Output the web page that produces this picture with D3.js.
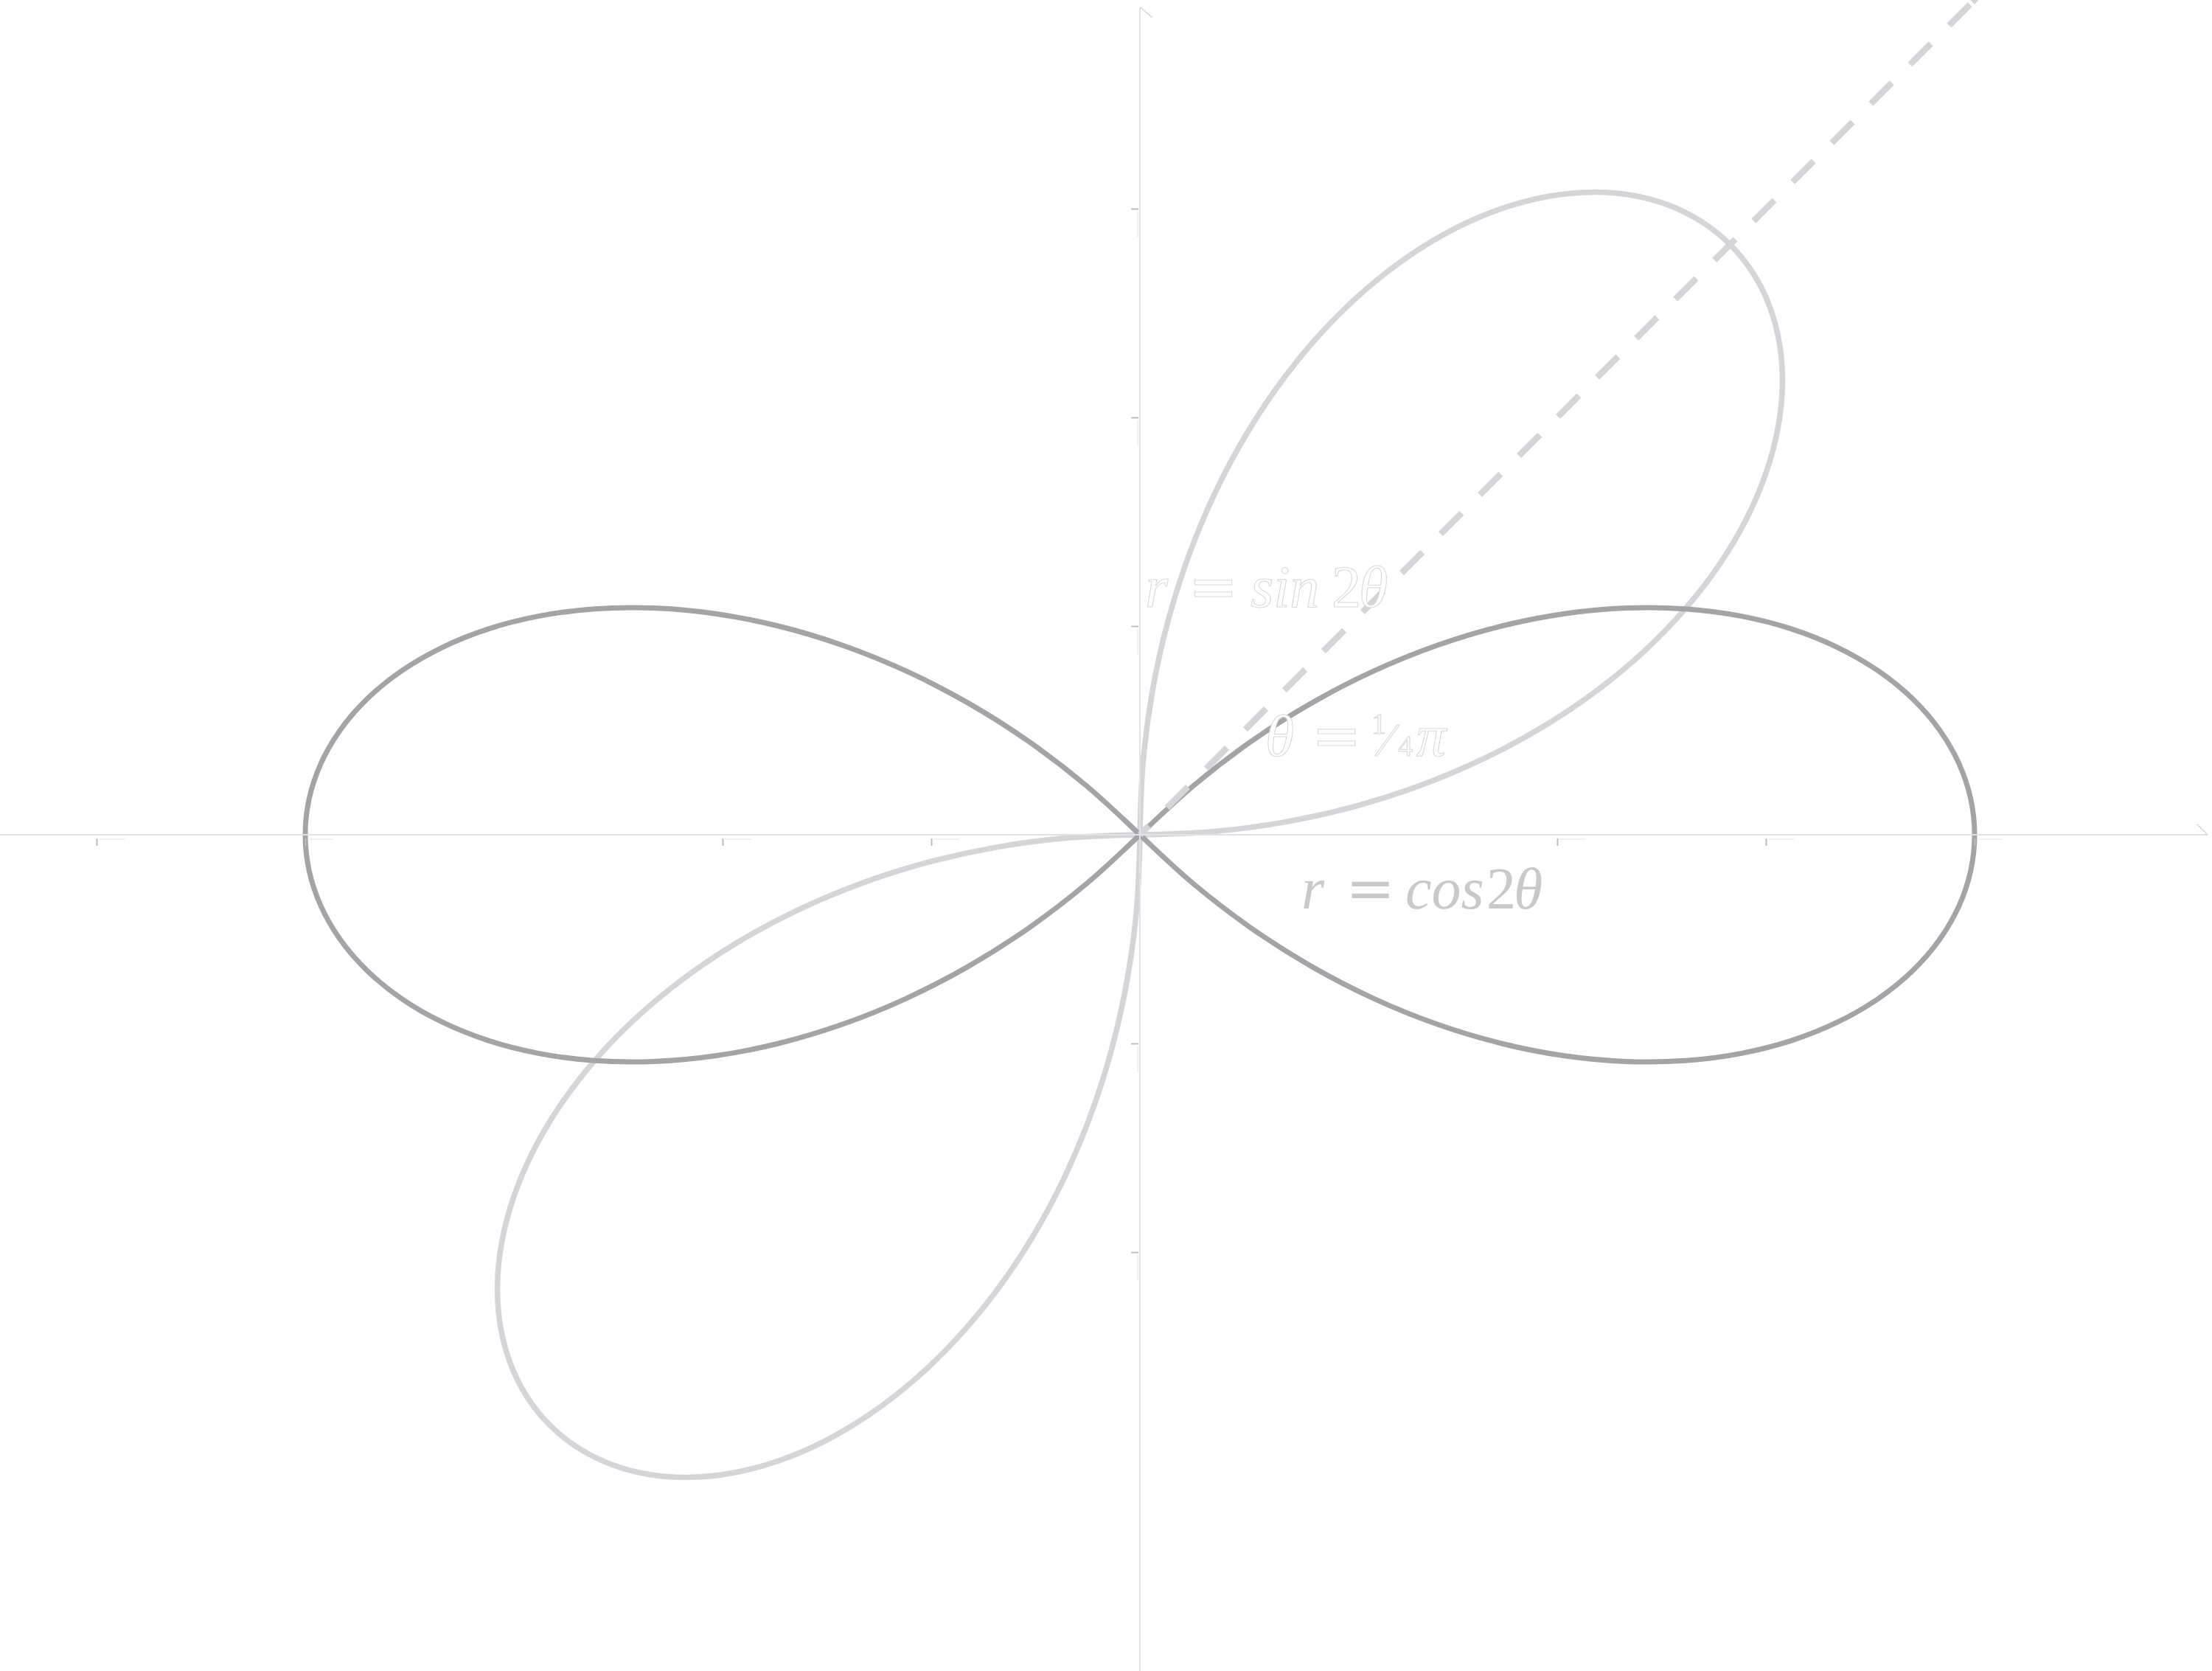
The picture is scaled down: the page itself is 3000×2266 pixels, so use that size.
<!DOCTYPE html>
<html>
<head>
<meta charset="utf-8">
<script src="https://cdn.jsdelivr.net/npm/d3@7"></script>
<style>
  html, body { margin: 0; padding: 0; background: #ffffff; }
  svg { display: block; }
  .lbl { font-family: "Liberation Serif", "Times New Roman", "DejaVu Serif", serif; }
  .eq { font-family: "DejaVu Serif", serif; font-style: normal; }
</style>
</head>
<body>
<script>
// ---- data ----
// angular offsets (degrees) from a petal's centre line, and the radius read at each
const petalOffsetsDeg = [-45, -42.5, -40, -37.5, -35, -32.5, -30, -27.5, -25, -22.5, -20, -17.5, -15, -12.5, -10, -7.5, -5, -2.5,
                         0, 2.5, 5, 7.5, 10, 12.5, 15, 17.5, 20, 22.5, 25, 27.5, 30, 32.5, 35, 37.5, 40, 42.5, 45];
const petalRadii = [0, 0.0872, 0.1736, 0.2588, 0.3420, 0.4226, 0.5, 0.5736, 0.6428, 0.7071, 0.7660, 0.8192, 0.8660, 0.9063, 0.9397, 0.9659, 0.9848, 0.9962,
                    1, 0.9962, 0.9848, 0.9659, 0.9397, 0.9063, 0.8660, 0.8192, 0.7660, 0.7071, 0.6428, 0.5736, 0.5, 0.4226, 0.3420, 0.2588, 0.1736, 0.0872, 0];
const cosPetalCentresDeg = [0, 180];   // r = cos2θ
const sinPetalCentresDeg = [45, 225];  // r = sin2θ
const rayAngleDeg = 45;                // θ = π/4
const rayEnd = [0, 1.4142];
const xTickValues = [-1.25, -1, -0.5, -0.25, 0.5, 0.75, 1];
const yTickValues = [0.75, 0.5, 0.25, -0.25, -0.5];

// ---- layout ----
const W = 3000, H = 2266;
const originX = 1546, originY = 1132, unit = 1132;

const x = d3.scaleLinear().domain([0, 1]).range([originX, originX + unit]);
const y = d3.scaleLinear().domain([0, 1]).range([originY, originY - unit]);
const r = d3.scaleLinear().domain([0, 1]).range([0, unit]);

const svg = d3.select("body").append("svg").attr("width", W).attr("height", H);
const rad = d => d * Math.PI / 180;

const radial = d3.lineRadial()
  .angle(d => Math.PI / 2 - d[0])
  .radius(d => r(d[1]))
  .curve(d3.curveCatmullRom.alpha(0.5));

function petal(centreDeg) {
  return petalOffsetsDeg.map((o, i) => [rad(centreDeg + o), petalRadii[i]]);
}

const plot = svg.append("g").attr("transform", `translate(${originX},${originY})`);

// sin curve (light)
plot.selectAll("path.sin").data(sinPetalCentresDeg).enter().append("path")
  .attr("class", "sin")
  .attr("d", c => radial(petal(c)))
  .attr("fill", "none").attr("stroke", "#d5d5d9").attr("stroke-width", 7.5)
  .attr("stroke-linejoin", "round");

// cos curve (darker)
plot.selectAll("path.cos").data(cosPetalCentresDeg).enter().append("path")
  .attr("class", "cos")
  .attr("d", c => radial(petal(c)))
  .attr("fill", "none").attr("stroke", "#a4a4a8").attr("stroke-width", 7)
  .attr("stroke-linejoin", "round");

// dashed ray θ = π/4
plot.append("path")
  .attr("d", d3.lineRadial().angle(d => Math.PI / 2 - d[0]).radius(d => r(d[1]))(rayEnd.map(v => [rad(rayAngleDeg), v])))
  .attr("fill", "none").attr("stroke", "#d5d5d9").attr("stroke-width", 8.5)
  .attr("stroke-dasharray", "40,35").attr("stroke-dashoffset", 23);

// small clipped arrow tip at the end of the ray
svg.append("path")
  .attr("d", `M${x(1) - 9},${y(1) - 4}L${x(1) + 9},${y(1) - 4}L${x(1)},${y(1) + 6}Z`)
  .attr("fill", "#d5d5d9");

// ---- axes ----
const axisColor = "#e2e2e4";
svg.append("line").attr("x1", 0).attr("x2", 2994).attr("y1", originY).attr("y2", originY)
  .attr("stroke", axisColor).attr("stroke-width", 2);
svg.append("line").attr("x1", originX).attr("x2", originX).attr("y1", 10).attr("y2", H)
  .attr("stroke", axisColor).attr("stroke-width", 2);
// half arrowheads
svg.append("line").attr("x1", originX + 1).attr("y1", 10).attr("x2", originX + 17).attr("y2", 24)
  .attr("stroke", "#cfcfd2").attr("stroke-width", 2).attr("stroke-dasharray", "2,1");
svg.append("line").attr("x1", 2980).attr("y1", originY - 14).attr("x2", 2994).attr("y2", originY)
  .attr("stroke", "#cfcfd2").attr("stroke-width", 2).attr("stroke-dasharray", "2,1");

// x ticks
const xAxis = d3.axisBottom(x).tickValues(xTickValues).tickSize(10).tickFormat("");
const gx = svg.append("g").attr("transform", `translate(0,${originY + 5})`).call(xAxis);
gx.select(".domain").remove();
gx.selectAll(".tick line").attr("stroke", "#bdbdc0").attr("stroke-width", 2);
gx.selectAll(".tick").append("line")
  .attr("x1", 3).attr("x2", 38).attr("y1", 1).attr("y2", 1)
  .attr("stroke", "#ececee").attr("stroke-width", 1.5);

// y ticks
const yAxis = d3.axisLeft(y).tickValues(yTickValues).tickSize(10).tickFormat("");
const gy = svg.append("g").attr("transform", `translate(${originX - 2},0)`).call(yAxis);
gy.select(".domain").remove();
gy.selectAll(".tick line").attr("stroke", "#bdbdc0").attr("stroke-width", 2);
gy.selectAll(".tick").append("line")
  .attr("x1", -1).attr("x2", -1).attr("y1", 3).attr("y2", 38)
  .attr("stroke", "#ececee").attr("stroke-width", 1.5);

// ---- labels ----
function label(parts, baseline, style) {
  const t = svg.append("text").attr("class", "lbl").attr("y", baseline)
    .attr("font-size", 80);
  Object.entries(style).forEach(([k, v]) => t.attr(k, v));
  parts.forEach(p => {
    const s = t.append("tspan").attr("x", p.x).text(p.t);
    if (p.it) s.attr("font-style", "italic");
    if (p.fs) s.attr("font-size", p.fs);
    s.attr("y", baseline + (p.dy || 0));
    if (p.eq) s.attr("class", "eq");
  });
  return t;
}
const ghost = { fill: "#ffffff", stroke: "#d9d9dc", "stroke-width": 1.1 };

label([
  { t: "r", x: 1553, it: true },
  { t: "=", x: 1612, eq: true },
  { t: "sin", x: 1696, it: true },
  { t: "2", x: 1806 },
  { t: "θ", x: 1843, it: true }
], 823, ghost);

label([
  { t: "θ", x: 1716, it: true },
  { t: "=", x: 1779, eq: true },
  { t: "1", x: 1860, fs: 40, dy: -30 },
  { t: "⁄", x: 1876, fs: 64 },
  { t: "4", x: 1896, fs: 40 },
  { t: "π", x: 1921, it: true }
], 1025, ghost);

label([
  { t: "r", x: 1765, it: true },
  { t: "=", x: 1825, eq: true },
  { t: "cos", x: 1906, it: true },
  { t: "2", x: 2016 },
  { t: "θ", x: 2053, it: true }
], 1232, { fill: "#c9c9cb" });
</script>
</body>
</html>
